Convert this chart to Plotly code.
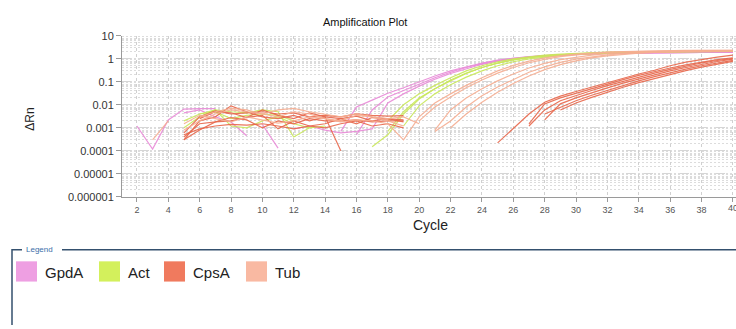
import plotly.graph_objects as go

# ---------------- data (cycle, ΔRn) ----------------
# each curve is a list of segments: (first cycle, [ΔRn values for consecutive cycles])
gpda_curves = [
    [(2, [0.0012, 0.00012, 0.0022, 0.0065, 0.0068, 0.0068]),
     (15, [0.0007, 0.008, 0.016, 0.032, 0.055, 0.1, 0.18, 0.3, 0.46, 0.66, 0.88, 1.08, 1.25, 1.4,
           1.52, 1.62, 1.7, 1.76, 1.8, 1.84, 1.87, 1.9, 1.92, 1.94, 1.95, 1.96])],
    [(5, [0.0045, 0.006, 0.003, 0.0018, 0.00045]),
     (16, [0.0005, 0.006, 0.022, 0.042, 0.08, 0.15, 0.26, 0.42, 0.62, 0.84, 1.05, 1.22, 1.38,
           1.5, 1.6, 1.68, 1.74, 1.79, 1.83, 1.86, 1.89, 1.91, 1.93, 1.94, 1.95])],
    [(10, [0.0014, 0.00013]),
     (12, [0.0009, 0.0012, 0.0008, 0.0006, 0.0007, 0.0009, 0.012, 0.03, 0.065, 0.13, 0.23, 0.38,
           0.58, 0.8, 1.0, 1.18, 1.33, 1.46, 1.56, 1.64, 1.71, 1.76, 1.8, 1.84, 1.87, 1.89,
           1.91, 1.92, 1.93])],
]
act_curves = [
    [(5, [0.001, 0.003, 0.006, 0.005, 0.0045, 0.006, 0.005, 0.0004, 0.001, 0.0012]),
     (18, [0.002, 0.01, 0.03, 0.07, 0.15, 0.3, 0.5, 0.75, 1.0, 1.25, 1.45, 1.6, 1.75, 1.85, 1.95,
           2.0, 2.05, 2.1, 2.12, 2.15, 2.15, 2.17, 2.18])],
    [(6, [0.004, 0.006, 0.0012, 0.001, 0.002, 0.003, 0.0015, 0.001]),
     (18, [0.0007, 0.005, 0.02, 0.05, 0.11, 0.23, 0.42, 0.65, 0.9, 1.15, 1.35, 1.52, 1.66, 1.78,
           1.88, 1.95, 2.0, 2.05, 2.08, 2.1, 2.12, 2.13, 2.14])],
    [(5, [0.002, 0.004, 0.005, 0.0025, 0.0035, 0.004, 0.0035, 0.002]),
     (19, [0.0012, 0.009, 0.03, 0.075, 0.16, 0.3, 0.5, 0.75, 1.0, 1.22, 1.42, 1.58, 1.72, 1.82,
           1.9, 1.96, 2.0, 2.04, 2.07, 2.09, 2.1, 2.11])],
    [(17, [0.00015, 0.0005, 0.004, 0.018, 0.05, 0.12, 0.24, 0.42, 0.65, 0.9, 1.12, 1.32, 1.5,
           1.64, 1.75, 1.85, 1.92, 1.98, 2.02, 2.05, 2.07, 2.08, 2.09])],
]
cpsa_curves = [
    [(5, [0.0003, 0.002, 0.003, 0.009, 0.005, 0.003, 0.0025, 0.0035, 0.002, 0.003, 0.0001]),
     (25, [0.00022, 0.0009, 0.004, 0.013, 0.024, 0.038, 0.06, 0.095, 0.15, 0.22, 0.32, 0.5,
           0.72, 0.95, 1.2, 1.45])],
    [(5, [0.0004, 0.0015, 0.0018, 0.0028, 0.0022, 0.001, 0.002, 0.0015, 0.0025, 0.002, 0.002,
          0.0022, 0.0018, 0.002, 0.002]),
     (27, [0.0015, 0.011, 0.02, 0.032, 0.05, 0.08, 0.125, 0.19, 0.28, 0.4, 0.55, 0.73, 0.93, 1.12])],
    [(5, [0.0005, 0.0009, 0.0012, 0.0014, 0.0013, 0.0015, 0.0012, 0.0009, 0.0012, 0.0015, 0.0025,
          0.0032, 0.002, 0.0025, 0.0018]),
     (27, [0.0012, 0.006, 0.015, 0.026, 0.042, 0.068, 0.105, 0.16, 0.24, 0.35, 0.49, 0.66, 0.85, 1.05])],
    [(5, [0.0006, 0.003, 0.0055, 0.004, 0.0045, 0.005, 0.004, 0.0045, 0.003, 0.0035, 0.003, 0.004,
          0.0035, 0.0032, 0.0034]),
     (28, [0.0022, 0.011, 0.02, 0.034, 0.055, 0.088, 0.135, 0.2, 0.3, 0.42, 0.58, 0.77, 0.98])],
    [(6, [0.0025, 0.005, 0.0045, 0.0028, 0.0035, 0.0009, 0.002, 0.0012, 0.001, 0.0015, 0.002,
          0.0012, 0.0015, 0.001]),
     (28, [0.004, 0.008, 0.015, 0.026, 0.043, 0.07, 0.11, 0.17, 0.25, 0.36, 0.5, 0.67, 0.86])],
    [(5, [0.0003, 0.0008, 0.0018, 0.002, 0.0028, 0.006, 0.0035, 0.0025, 0.0045, 0.003, 0.0025,
          0.0015, 0.0028, 0.0025, 0.0022]),
     (29, [0.006, 0.012, 0.021, 0.036, 0.058, 0.092, 0.14, 0.21, 0.31, 0.44, 0.6, 0.78])],
]
tub_curves = [
    [(5, [0.0008, 0.002, 0.004, 0.006, 0.005, 0.004, 0.006, 0.007, 0.005, 0.004, 0.003, 0.004,
          0.003, 0.0025, 0.003, 0.0015]),
     (21, [0.0008, 0.006, 0.02, 0.05, 0.11, 0.22, 0.4, 0.64, 0.92, 1.2, 1.45, 1.67, 1.85, 1.98,
           2.08, 2.15, 2.2, 2.23, 2.25, 2.26])],
    [(6, [0.003, 0.005, 0.007, 0.006, 0.004, 0.003, 0.005, 0.004, 0.0025, 0.002, 0.0035, 0.003,
          0.002, 0.0012]),
     (20, [0.002, 0.008, 0.022, 0.055, 0.12, 0.24, 0.42, 0.68, 0.95, 1.25, 1.5, 1.72, 1.9, 2.03,
           2.13, 2.2, 2.25, 2.28, 2.3, 2.32, 2.33])],
    [(3, [0.0003, 0.002]),
     (5, [0.0015, 0.0035, 0.0025, 0.0018, 0.003, 0.0022, 0.0016, 0.002, 0.003, 0.0025, 0.0018,
          0.0022, 0.002, 0.0015, 0.0003, 0.003, 0.012, 0.03, 0.07, 0.15, 0.3, 0.52, 0.8, 1.1, 1.38,
          1.6, 1.8, 1.95, 2.08, 2.18, 2.25, 2.3, 2.33, 2.35, 2.36, 2.37])],
    [(21, [0.0007, 0.002, 0.008, 0.025, 0.06, 0.13, 0.26, 0.45, 0.7, 0.98, 1.25, 1.5, 1.7, 1.86,
           1.98, 2.07, 2.13, 2.17, 2.2, 2.22])],
    [(22, [0.001, 0.004, 0.013, 0.035, 0.085, 0.18, 0.34, 0.56, 0.82, 1.1, 1.35, 1.58, 1.76, 1.9,
           2.0, 2.07, 2.12, 2.15, 2.17])],
]

genes = ["GpdA", "Act", "CpsA", "Tub"]
line_colors = ["#E98AD8", "#C9E85A", "#E8674B", "#F6AE92"]
swatch_colors = ["#EE9FE2", "#D3F05C", "#F07A5E", "#F9B9A2"]
y_tickvals = [10, 1, 0.1, 0.01, 0.001, 0.0001, 0.00001, 0.000001]
y_ticktext = ["10", "1", "0.1", "0.01", "0.001", "0.0001", "0.00001", "0.000001"]
x_last_tick = 40

W, H = 736, 329
FONT = "Liberation Sans, Arial, sans-serif"

fig = go.Figure()
for curves, col in zip([gpda_curves, act_curves, cpsa_curves, tub_curves], line_colors):
    for curve in curves:
        xs, ys = [], []
        for start, vals in curve:
            xs += [start + i for i in range(len(vals))] + [None]
            ys += list(vals) + [None]
        fig.add_trace(go.Scatter(x=xs, y=ys, mode="lines", connectgaps=False,
                                 line=dict(color=col, width=1.2), opacity=0.9,
                                 hoverinfo="skip", showlegend=False))

def px(x):
    return x / W

def py(y):
    return 1 - y / H

shapes = []
annotations = []

def label(text, x, y, size, color="#222", xanchor="center", angle=0):
    annotations.append(dict(text=text, x=px(x), y=py(y), xref="paper", yref="paper",
                            xanchor=xanchor, yanchor="middle", textangle=angle,
                            showarrow=False, font=dict(family=FONT, size=size, color=color)))

# title and axis titles
label("Amplification Plot", 365, 17, 11, "#111")
label("ΔRn", 30, 118, 12, angle=-90)
label("Cycle", 430, 227, 14)

# partially visible last x tick label (clipped at the right edge, as in the reference)
annotations.append(dict(text=str(x_last_tick), x=x_last_tick, xref="x", y=py(210), yref="paper",
                        xanchor="center", yanchor="middle", showarrow=False,
                        font=dict(family=FONT, size=9, color="#555")))

# legend frame (fieldset style)
frame_col = "#34506e"
shapes.append(dict(type="path", xref="paper", yref="paper",
                   path=f"M {px(12)},{py(H + 2)} L {px(12)},{py(253)} L {px(22)},{py(253)}",
                   line=dict(color=frame_col, width=1.5)))
shapes.append(dict(type="line", xref="paper", yref="paper", x0=px(62), x1=px(W + 2),
                   y0=py(253), y1=py(253), line=dict(color=frame_col, width=1.5)))
label("Legend", 24, 253, 8, "#3a6ea8", xanchor="left")

sw_x = [16, 99, 164, 246]
for g, c, x0 in zip(genes, swatch_colors, sw_x):
    shapes.append(dict(type="rect", xref="paper", yref="paper", x0=px(x0), x1=px(x0 + 21),
                       y0=py(286), y1=py(265), fillcolor=c, line=dict(width=0)))
    label(g, x0 + 27, 277, 15, xanchor="left")

fig.update_layout(
    width=W, height=H, margin=dict(l=0, r=0, t=0, b=0),
    paper_bgcolor="white", plot_bgcolor="white",
    showlegend=False, shapes=shapes, annotations=annotations,
    xaxis=dict(domain=[px(122), 1], range=[1.05, 40.2], tick0=2, dtick=2,
               showgrid=True, gridcolor="#d0d0d0", griddash="dot", gridwidth=1,
               showline=True, linecolor="#9a9a9a", linewidth=1, zeroline=False,
               ticks="outside", ticklen=4, tickcolor="#9a9a9a",
               tickfont=dict(family=FONT, size=9, color="#555")),
    yaxis=dict(domain=[py(198), py(31)], type="log", range=[-6, 1],
               tickvals=y_tickvals, ticktext=y_ticktext,
               showgrid=True, gridcolor="#d6d6d6", griddash="dash", gridwidth=1,
               minor=dict(dtick="D1", showgrid=True, gridcolor="#dcdcdc", griddash="2px,2px",
                          ticks=""),
               showline=True, linecolor="#9a9a9a", linewidth=1, zeroline=False,
               ticks="outside", ticklen=5, tickcolor="#9a9a9a",
               tickfont=dict(family=FONT, size=11, color="#333")),
)

fig.write_html("out.html")
